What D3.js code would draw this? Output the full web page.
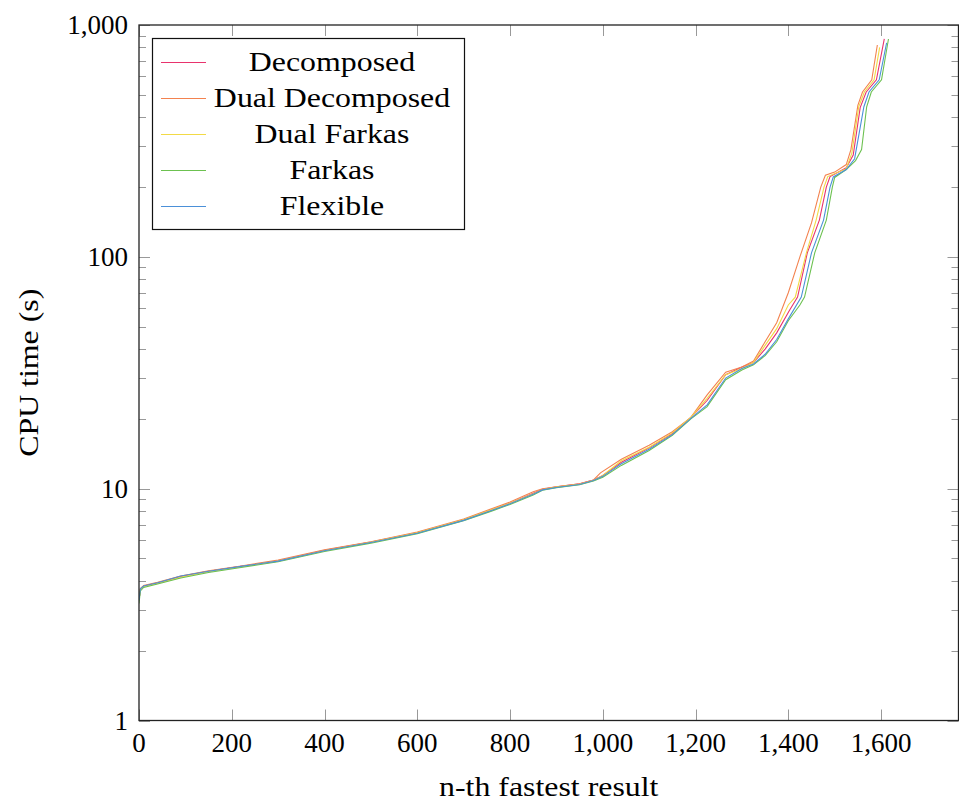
<!DOCTYPE html>
<html>
<head>
<meta charset="utf-8">
<script src="https://cdn.jsdelivr.net/npm/d3@7"></script>
<style>
  body { margin: 0; background: #fff; }
  svg { display: block; font-family: "Liberation Serif", "DejaVu Serif", serif; }
</style>
</head>
<body>
<svg id="chart" width="959" height="805"></svg>
<script>
// solver variants, in legend order
const seriesNames = ["Decomposed", "Dual Decomposed", "Dual Farkas", "Farkas", "Flexible"];

// [n-th fastest result, CPU time in s]
const decomposed = [
  [0, 3.3], [3, 3.7], [10, 3.8], [40, 3.92], [90, 4.18], [150, 4.4], [220, 4.62],
  [300, 4.88], [400, 5.42], [500, 5.88], [600, 6.45], [700, 7.35], [760, 8.1],
  [800, 8.65], [850, 9.55], [870, 9.95], [900, 10.2], [950, 10.5], [980, 10.9],
  [1000, 11.4], [1040, 13.0], [1100, 15.0], [1150, 17.3], [1190, 20.3], [1225, 24],
  [1265, 31], [1300, 33.5], [1325, 35], [1350, 40], [1375, 47], [1403, 59],
  [1420, 67], [1441, 104], [1467, 144], [1482, 200], [1490, 222], [1525, 242],
  [1540, 275], [1555, 440], [1568, 514], [1590, 580], [1607, 871]
];
const dualDecomposed = [
  [0, 3.3], [3, 3.7], [10, 3.82], [40, 3.95], [90, 4.2], [150, 4.42], [220, 4.64],
  [300, 4.92], [400, 5.45], [500, 5.9], [600, 6.5], [700, 7.4], [760, 8.2],
  [800, 8.75], [850, 9.7], [870, 10.0], [900, 10.2], [950, 10.5], [980, 10.9],
  [995, 11.7], [1040, 13.4], [1100, 15.4], [1150, 17.6], [1190, 20.3], [1225, 25.4],
  [1265, 31.8], [1300, 33.5], [1325, 35.5], [1350, 43], [1375, 52], [1400, 70],
  [1425, 100], [1450, 140], [1470, 200], [1480, 225], [1500, 232], [1525, 250],
  [1535, 290], [1550, 450], [1560, 514], [1580, 580], [1592, 820]
];
const dualFarkas = [
  [0, 3.3], [3, 3.68], [10, 3.78], [40, 3.9], [90, 4.15], [150, 4.38], [220, 4.6],
  [300, 4.87], [400, 5.4], [500, 5.87], [600, 6.45], [700, 7.35], [760, 8.1],
  [800, 8.65], [850, 9.5], [870, 9.9], [900, 10.15], [950, 10.45], [980, 10.85],
  [1000, 11.4], [1040, 13.2], [1100, 15.1], [1150, 17.4], [1190, 20.3], [1225, 24.5],
  [1265, 31], [1300, 33], [1325, 35], [1350, 41.5], [1375, 49], [1400, 62],
  [1415, 67], [1439, 104], [1460, 144], [1477, 200], [1485, 222], [1525, 240],
  [1537, 280], [1552, 445], [1564, 514], [1585, 580], [1597, 800]
];
const farkas = [
  [0, 3.2], [3, 3.62], [10, 3.75], [40, 3.88], [90, 4.12], [150, 4.35], [220, 4.57],
  [300, 4.84], [400, 5.36], [500, 5.82], [600, 6.4], [700, 7.28], [760, 8.0],
  [800, 8.55], [850, 9.4], [870, 9.85], [900, 10.1], [950, 10.4], [980, 10.8],
  [1000, 11.2], [1040, 12.6], [1100, 14.6], [1150, 17.0], [1190, 20.0], [1225, 22.6],
  [1265, 29.5], [1300, 32.5], [1325, 34.2], [1350, 37.5], [1375, 43], [1400, 53],
  [1425, 62], [1435, 67], [1457, 104], [1482, 144], [1495, 200], [1500, 220],
  [1525, 238], [1545, 260], [1558, 290], [1569, 444], [1579, 514], [1601, 580],
  [1616, 870]
];
const flexible = [
  [0, 3.3], [3, 3.7], [10, 3.8], [40, 3.93], [90, 4.2], [150, 4.4], [220, 4.62],
  [300, 4.87], [400, 5.4], [500, 5.86], [600, 6.42], [700, 7.3], [760, 8.05],
  [800, 8.6], [850, 9.45], [870, 9.88], [900, 10.12], [950, 10.42], [980, 10.85],
  [1000, 11.3], [1040, 12.8], [1100, 14.8], [1150, 17.1], [1190, 20.1], [1225, 23],
  [1265, 30], [1300, 33], [1325, 34.5], [1350, 38], [1375, 44], [1400, 54],
  [1428, 67], [1450, 104], [1476, 144], [1490, 200], [1497, 221], [1525, 238],
  [1543, 265], [1563, 444], [1574, 514], [1596, 580], [1612, 838]
];
const seriesData = [decomposed, dualDecomposed, dualFarkas, farkas, flexible];

const xTicks = [0, 200, 400, 600, 800, 1000, 1200, 1400, 1600];
const yMajorTicks = [1, 10, 100, 1000];
const xDomain = [0, 1767];
const yDomain = [1, 1000];

const colors = ["#e8336d", "#f3824f", "#f2da46", "#6cc150", "#4b90d8"];

const width = 959;
const height = 805;
const margin = { top: 25, right: 0.5, bottom: 84.5, left: 139 };
const fontSize = 27;
const wordStretch = 1.18; // the original serif is wider than Liberation Serif

const svg = d3.select("#chart");

const xScale = d3
  .scaleLinear()
  .domain(xDomain)
  .range([margin.left, width - margin.right]);

const yScale = d3
  .scaleLog()
  .domain(yDomain)
  .range([height - margin.bottom, margin.top]);

const x0 = margin.left;
const x1 = width - margin.right;
const y0 = height - margin.bottom;
const y1 = margin.top;

// stretch word labels horizontally so they take the width of the original font
function stretch(sel) {
  sel.each(function () {
    const w = this.getComputedTextLength();
    d3.select(this)
      .attr("textLength", w * wordStretch)
      .attr("lengthAdjust", "spacingAndGlyphs");
  });
}

// curves, clipped to the plot box
svg
  .append("clipPath")
  .attr("id", "plot-clip")
  .append("rect")
  .attr("x", x0)
  .attr("y", y1)
  .attr("width", x1 - x0)
  .attr("height", y0 - y1);

const line = d3
  .line()
  .x((d) => xScale(d[0]))
  .y((d) => yScale(d[1]));

svg
  .append("g")
  .attr("clip-path", "url(#plot-clip)")
  .selectAll("path")
  .data(seriesData)
  .enter()
  .append("path")
  .attr("d", line)
  .attr("fill", "none")
  .attr("stroke", (_, i) => colors[i])
  .attr("stroke-width", 1.1);

// ticks (inward, on all sides)
const majorLen = 11;
const minorLen = 7;
const tickColor = "#999";
const ticks = svg.append("g").attr("stroke", tickColor).attr("stroke-width", 1);

xTicks.forEach((t) => {
  const x = Math.round(xScale(t)) + 0.5;
  ticks.append("line").attr("x1", x).attr("x2", x).attr("y1", y0).attr("y2", y0 - majorLen);
  ticks.append("line").attr("x1", x).attr("x2", x).attr("y1", y1).attr("y2", y1 + majorLen);
});

yScale.ticks().forEach((t) => {
  const y = Math.round(yScale(t)) + 0.5;
  const len = yMajorTicks.includes(t) ? majorLen : minorLen;
  ticks.append("line").attr("x1", x0).attr("x2", x0 + len).attr("y1", y).attr("y2", y);
  ticks.append("line").attr("x1", x1).attr("x2", x1 - len).attr("y1", y).attr("y2", y);
});

// axis box
svg
  .append("rect")
  .attr("x", x0)
  .attr("y", y1)
  .attr("width", x1 - x0)
  .attr("height", y0 - y1)
  .attr("fill", "none")
  .attr("stroke", "#222")
  .attr("stroke-width", 1.3);

// tick labels
const fmt = d3.format(",");

svg
  .append("g")
  .selectAll("text")
  .data(xTicks)
  .enter()
  .append("text")
  .attr("x", (d) => xScale(d))
  .attr("y", y0 + 31)
  .attr("text-anchor", "middle")
  .style("font-size", fontSize + "px")
  .text((d) => fmt(d));

svg
  .append("g")
  .selectAll("text")
  .data(yMajorTicks)
  .enter()
  .append("text")
  .attr("x", x0 - 11)
  .attr("y", (d) => yScale(d) + 9)
  .attr("text-anchor", "end")
  .style("font-size", fontSize + "px")
  .text((d) => fmt(d));

// axis titles
svg
  .append("text")
  .attr("x", (x0 + x1) / 2)
  .attr("y", 796)
  .attr("text-anchor", "middle")
  .style("font-size", fontSize + "px")
  .text("n-th fastest result")
  .call(stretch);

svg
  .append("text")
  .attr("transform", `translate(38, ${(y0 + y1) / 2}) rotate(-90)`)
  .attr("text-anchor", "middle")
  .style("font-size", fontSize + "px")
  .text("CPU time (s)")
  .call(stretch);

// legend
const legend = svg.append("g").attr("id", "legend");

legend
  .append("rect")
  .attr("x", 152.5)
  .attr("y", 38.5)
  .attr("width", 312)
  .attr("height", 191)
  .attr("fill", "#fff")
  .attr("stroke", "#111")
  .attr("stroke-width", 1.2);

const rows = legend
  .selectAll("g.legend-row")
  .data(seriesNames)
  .enter()
  .append("g")
  .attr("class", "legend-row")
  .attr("transform", (_, i) => `translate(0, ${62 + i * 36})`);

rows
  .append("line")
  .attr("x1", 161)
  .attr("x2", 206)
  .attr("y1", 0.5)
  .attr("y2", 0.5)
  .attr("stroke", (_, i) => colors[i])
  .attr("stroke-width", 1.1);

rows
  .append("text")
  .attr("x", 332)
  .attr("y", 9)
  .attr("text-anchor", "middle")
  .style("font-size", fontSize + "px")
  .text((d) => d)
  .call(stretch);
</script>
</body>
</html>
